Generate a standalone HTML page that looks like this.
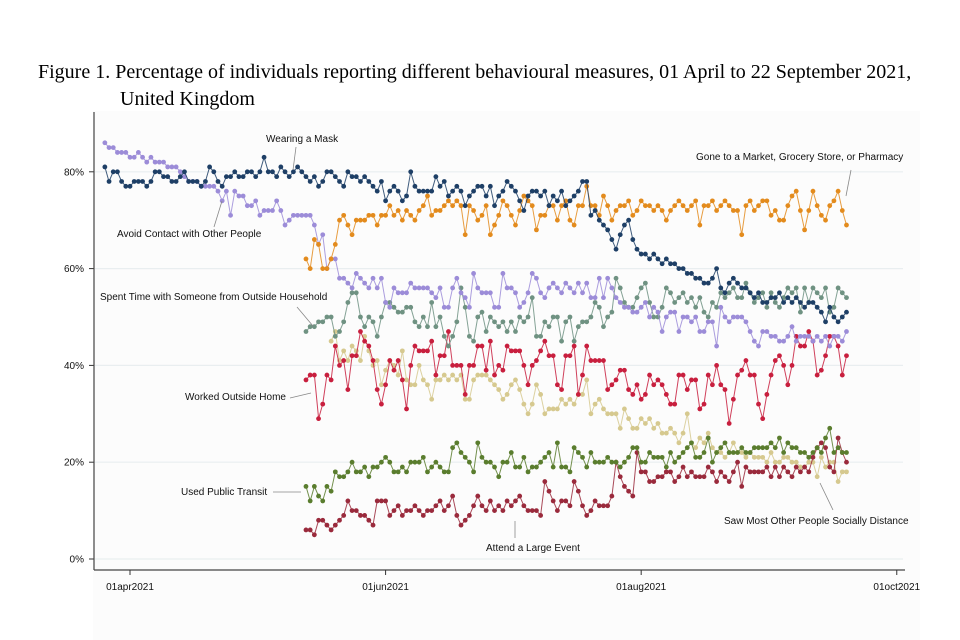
<!DOCTYPE html>
<html><head><meta charset="utf-8"><style>
body{margin:0;background:#fff;width:960px;height:640px;overflow:hidden}
svg{display:block}
.t{font-family:"Liberation Serif",serif;font-size:20px;fill:#000}
.l{font-family:"Liberation Sans",sans-serif;font-size:10px;fill:#111}
</style></head><body>
<svg id="chart" width="960" height="640">
<text class="t" x="38" y="78">Figure 1. Percentage of individuals reporting different behavioural measures, 01 April to 22 September 2021,</text>
<text class="t" x="120" y="105">United Kingdom</text>
<rect x="93" y="111" width="827" height="529" fill="#fcfcfc"/>
<g id="grid"></g><g id="axes"></g><g id="series"></g><g id="labels"></g>
</svg>
<script>
const NS="http://www.w3.org/2000/svg";
const xTickLabels=["01apr2021","01jun2021","01aug2021","01oct2021"];
const xTickDays=[6,67,128,189];
const yTicks=[0,20,40,60,80];
const maskStart=0;
const mask=[81,78,80,80,78,77,77,78,78,78,77,78,80,80,79,79,78,78,79,80,78,78,78,77,78,81,80,78,77,79,79,80,79,79,80,80,79,80,83,80,80,79,81,80,79,80,81,80,79,78,79,77,78,80,80,79,78,77,80,79,79,78,79,78,77,76,78,74,76,77,76,74,75,80,77,76,76,76,76,79,77,78,75,76,77,76,73,75,76,77,77,75,77,73,75,76,78,77,76,74,72,75,76,76,75,76,73,75,74,76,73,74,75,76,78,78,71,72,70,69,68,66,64,67,69,70,66,64,63,63,62,63,62,61,62,61,61,60,60,59,59,58,58,57,57,58,60,56,55,57,58,57,56,56,55,54,55,53,53,54,54,55,53,54,53,54,53,52,53,53,52,51,49,52,50,49,50,51];
const avoidStart=0;
const avoid=[86,85,85,84,84,84,83,83,84,83,82,83,82,82,82,81,81,81,80,79,78,78,78,77,77,77,77,76,74,76,71,76,75,75,73,73,74,71,72,72,72,74,72,69,70,71,71,71,71,71,69,65,67,60,62,62,58,58,57,56,59,58,57,56,58,56,58,53,52,56,55,55,55,57,56,56,56,56,55,54,56,52,52,56,58,55,54,52,59,56,55,55,55,52,52,59,56,56,55,52,53,55,59,58,55,54,56,57,56,55,57,56,55,57,55,57,54,54,58,54,58,56,54,53,52,52,51,51,52,53,50,52,51,47,50,51,51,47,50,50,49,50,47,47,49,49,44,52,50,49,50,50,50,49,47,45,44,47,47,46,46,45,45,46,48,45,46,46,46,45,46,45,46,44,46,46,45,47];
const marketStart=48;
const market=[62,60,66,65,60,60,62,65,70,71,69,67,70,70,70,71,71,69,71,71,73,71,72,70,72,71,70,72,73,75,71,72,72,73,74,73,74,73,67,73,72,70,71,73,67,69,71,74,73,71,69,72,75,74,73,68,71,71,73,73,70,73,74,70,69,73,73,77,73,73,71,75,73,70,72,73,73,74,71,72,74,73,73,72,73,72,70,72,73,74,73,72,73,74,69,73,73,74,72,73,74,73,72,72,67,73,74,72,73,74,74,71,72,70,70,73,75,76,72,68,72,76,73,71,70,73,74,76,72,69];
const spentStart=48;
const spent=[47,48,48,49,49,50,50,46,47,49,53,55,55,50,48,50,49,46,50,53,53,52,51,51,52,52,49,48,50,48,53,48,50,46,44,46,49,56,52,46,45,50,51,47,50,49,48,49,47,49,47,50,49,50,54,46,46,49,48,50,50,45,49,50,45,48,49,49,50,53,52,48,50,51,58,56,53,52,52,54,56,57,53,50,50,52,56,55,53,54,55,53,54,52,54,51,50,53,52,55,54,55,56,54,54,57,55,53,54,55,52,55,53,52,54,56,55,56,51,56,53,56,55,54,56,51,52,56,55,54];
const workedStart=48;
const worked=[37,38,38,29,32,38,37,44,40,41,35,42,42,47,45,44,41,35,32,36,41,39,41,37,31,40,44,43,43,43,45,38,42,42,47,40,40,40,34,40,40,44,44,39,45,38,40,39,44,43,43,43,40,36,40,41,43,45,42,42,36,35,42,42,44,34,38,44,41,41,41,41,35,36,37,39,39,35,34,36,33,34,38,36,37,36,34,32,32,38,38,35,37,37,31,32,38,36,40,36,35,28,33,38,39,41,38,38,32,29,34,38,41,42,40,36,40,46,44,44,47,45,38,39,42,46,46,44,38,42];
const distanceStart=54;
const distance=[45,47,41,43,41,44,43,41,46,43,40,41,36,39,41,40,38,43,37,36,36,40,37,36,33,37,37,38,37,38,37,38,33,33,37,38,38,38,37,36,35,33,34,36,37,35,32,30,32,36,34,30,31,31,31,33,32,33,32,34,34,37,30,32,33,31,30,30,30,27,31,29,27,27,29,28,29,27,28,26,26,27,26,24,26,30,24,23,25,24,26,23,22,22,21,22,24,22,22,21,22,21,21,21,20,22,20,20,21,21,20,20,19,19,20,20,17,21,19,20,20,16,18,18];
const transitStart=48;
const transit=[15,12,15,13,12,15,14,18,17,17,18,20,18,18,19,17,19,19,20,21,20,18,18,19,18,20,20,20,21,18,19,20,19,18,18,23,24,22,21,20,18,24,21,20,20,19,17,20,20,22,19,19,21,18,19,19,20,21,22,19,24,19,19,18,23,22,21,19,22,20,20,20,21,20,20,19,20,21,23,23,20,20,22,21,21,21,19,22,20,21,22,23,24,21,21,22,25,20,22,23,24,22,22,22,23,22,22,23,23,23,23,24,23,25,22,24,23,23,22,22,21,22,23,22,25,27,22,23,22,22];
const eventStart=48;
const largeEvent=[6,6,5,8,8,7,6,7,8,9,12,10,10,9,9,8,7,12,12,12,9,10,11,9,10,10,11,10,9,10,10,11,12,10,11,13,9,7,8,9,11,13,11,10,12,10,11,10,12,11,12,13,11,10,10,10,9,16,14,12,10,12,12,11,16,14,11,9,10,12,11,11,11,13,20,17,15,14,13,22,18,18,16,16,17,17,18,18,16,17,19,17,18,17,17,17,19,18,16,18,17,16,18,20,15,19,18,18,18,18,19,17,19,17,19,18,17,19,18,19,18,21,23,24,23,19,18,25,22,20];

function xS(d){return 130+(d-6)*4.19;}
function yS(v){return 559-v*4.84;}
function mk(tag,attrs,parent){const e=document.createElementNS(NS,tag);for(const k in attrs)e.setAttribute(k,attrs[k]);parent.appendChild(e);return e;}
const grid=document.getElementById('grid'),axes=document.getElementById('axes'),ser=document.getElementById('series'),lab=document.getElementById('labels');
yTicks.forEach(v=>{
  const g=mk('line',{x1:95,x2:903,y1:yS(v),y2:yS(v),stroke:'#e9eef0','stroke-width':1.2},grid);
  
  
  const t=mk('line',{x1:89,x2:94,y1:yS(v),y2:yS(v),stroke:'#333'},axes);
  
  
  const tx=mk('text',{x:84,y:yS(v)+3.5,'text-anchor':'end',class:'l'},axes);tx.textContent=v+'%';
  
  
});
const ya=mk('line',{x1:94,x2:94,y1:112,y2:570,stroke:'#444','stroke-width':1.2},axes);


const xa=mk('line',{x1:94,x2:905,y1:570,y2:570,stroke:'#444','stroke-width':1.2},axes);


xTickDays.forEach((d,i)=>{
  const t=mk('line',{x1:xS(d),x2:xS(d),y1:570,y2:575,stroke:'#333'},axes);
  
  
  const tx=mk('text',{x:xS(d),y:590,'text-anchor':'middle',class:'l'},axes);tx.textContent=xTickLabels[i];
  
  
});
function draw(vals,start,color,name){
  const g=mk('g',{},ser);
  
  
  const pts=vals.map((v,i)=>xS(start+i).toFixed(1)+','+yS(v).toFixed(1)).join(' ');
  const pl=mk('polyline',{points:pts,fill:'none',stroke:color,'stroke-width':1,'stroke-opacity':0.85},g);
  
  
  vals.forEach((v,i)=>{
    const c=mk('circle',{cx:xS(start+i),cy:yS(v),r:2.4,fill:color},g);
    
    
  });
}
draw(distance,distanceStart,'#d6c98f','saw-distance');
draw(largeEvent,eventStart,'#9a2a3c','large-event');
draw(transit,transitStart,'#5a7d2e','public-transit');
draw(worked,workedStart,'#c81f3e','worked-outside');
draw(spent,spentStart,'#6f9282','spent-time');
draw(avoid,avoidStart,'#9c8cd8','avoid-contact');
draw(market,marketStart,'#e38b1d','market');
draw(mask,maskStart,'#1e3f66','wearing-mask');
const labels=[
 ['Wearing a Mask',266,142,[296,147,293,170],'label-wearing-mask'],
 ['Gone to a Market, Grocery Store, or Pharmacy',696,160,[851,170,846,196],'label-market'],
 ['Avoid Contact with Other People',117,237,[214,227,222,201],'label-avoid-contact'],
 ['Spent Time with Someone from Outside Household',100,300,[297,307,313,326],'label-spent-time'],
 ['Worked Outside Home',185,400,[290,398,311,393],'label-worked-outside'],
 ['Used Public Transit',181,495,[273,492,301,492],'label-public-transit'],
 ['Attend a Large Event',486,551,[515,538,515,521],'label-large-event'],
 ['Saw Most Other People Socially Distance',724,524,[833,510,820,483],'label-saw-distance']
];
labels.forEach(l=>{
  const t=mk('text',{x:l[1],y:l[2],class:'l'},lab);t.textContent=l[0];
  
  
  const ln=mk('line',{x1:l[3][0],y1:l[3][1],x2:l[3][2],y2:l[3][3],stroke:'#888','stroke-width':0.8},lab);
  
  
});
</script>
</body></html>
